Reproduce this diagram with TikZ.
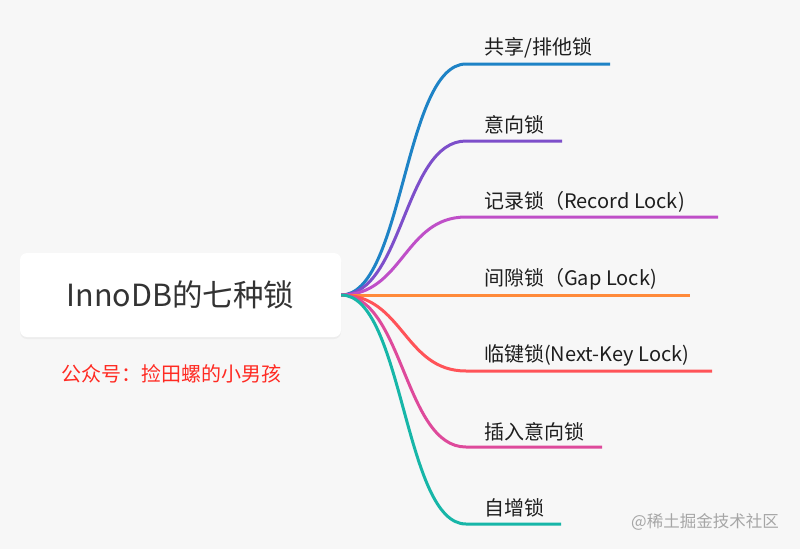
\documentclass[tikz,border=0pt]{standalone}
\usepackage{fontspec}
\usepackage{xcolor}
\usepackage{tikz}
\usetikzlibrary{shadows}
\newfontfamily\cjk{Noto Sans CJK SC}
\definecolor{bggray}{HTML}{F7F7F7}
\definecolor{roottext}{HTML}{333333}
\definecolor{leaftext}{HTML}{1E1E1E}
\definecolor{authorred}{HTML}{FF2A22}
\definecolor{markgray}{HTML}{A6A6A6}
\definecolor{lockblue}{HTML}{1E83C6}
\definecolor{lockviolet}{HTML}{7D4FCA}
\definecolor{lockmagenta}{HTML}{BF4FC8}
\definecolor{lockorange}{HTML}{FF8A3A}
\definecolor{lockred}{HTML}{FF5358}
\definecolor{lockpink}{HTML}{DE4A9B}
\definecolor{lockteal}{HTML}{17B6A8}

\begin{document}
\begin{tikzpicture}[x=1pt,y=-1pt,
  branch/.style={line width=3pt},
  leaf/.style={anchor=west,inner sep=0pt,text=leaftext,font=\cjk\fontsize{20}{20}\selectfont}]
\fill[bggray] (0,0) rectangle (800,549);
\useasboundingbox (0,0) rectangle (800,549);

\node[rounded corners=7pt,fill=white,drop shadow={opacity=0.08,shadow xshift=0pt,shadow yshift=-2pt},minimum width=321pt,minimum height=84pt,text=roottext,font=\cjk\fontsize{30.5}{30.5}\selectfont] (root) at (180.5,295) {InnoDB的七种锁};
\node[anchor=west,inner sep=0pt,text=authorred,font=\cjk\fontsize{20}{20}\selectfont] (author) at (61,374) {公众号：捡田螺的小男孩};

% branches
\coordinate (k1) at (466,64);  \coordinate (e1) at (610,64);
\coordinate (k2) at (466,141); \coordinate (e2) at (562,141);
\coordinate (k3) at (466,217); \coordinate (e3) at (718,217);
\coordinate (k4) at (466,295); \coordinate (e4) at (690,295);
\coordinate (k5) at (466,371); \coordinate (e5) at (712,371);
\coordinate (k6) at (466,447); \coordinate (e6) at (602,447);
\coordinate (k7) at (466,524); \coordinate (e7) at (561,524);

\draw[branch,lockblue] (root.east) .. controls +(62,0) and +(-62,0) .. (k1) -- (e1);
\draw[branch,lockviolet] (root.east) .. controls +(62,0) and +(-62,0) .. (k2) -- (e2);
\draw[branch,lockmagenta] (root.east) .. controls +(62,0) and +(-62,0) .. (k3) -- (e3);
\draw[branch,lockorange] (root.east) -- (k4) -- (e4);
\draw[branch,lockred] (root.east) .. controls +(62,0) and +(-62,0) .. (k5) -- (e5);
\draw[branch,lockpink] (root.east) .. controls +(62,0) and +(-62,0) .. (k6) -- (e6);
\draw[branch,lockteal] (root.east) .. controls +(62,0) and +(-62,0) .. (k7) -- (e7);

\node[leaf] (l1) at (484,48) {共享/排他锁};
\node[leaf] (l2) at (484,125) {意向锁};
\node[leaf] (l3) at (484,202) {记录锁（Record Lock)};
\node[leaf] (l4) at (484,279) {间隙锁（Gap Lock)};
\node[leaf] (l5) at (484,355) {临键锁(Next-Key Lock)};
\node[leaf] (l6) at (484,432) {插入意向锁};
\node[leaf] (l7) at (484,508) {自增锁};

\node[anchor=west,inner sep=0pt,text=markgray,font=\cjk\fontsize{16.5}{16.5}\selectfont] (mark) at (631,522) {@稀土掘金技术社区};
\end{tikzpicture}
\end{document}
